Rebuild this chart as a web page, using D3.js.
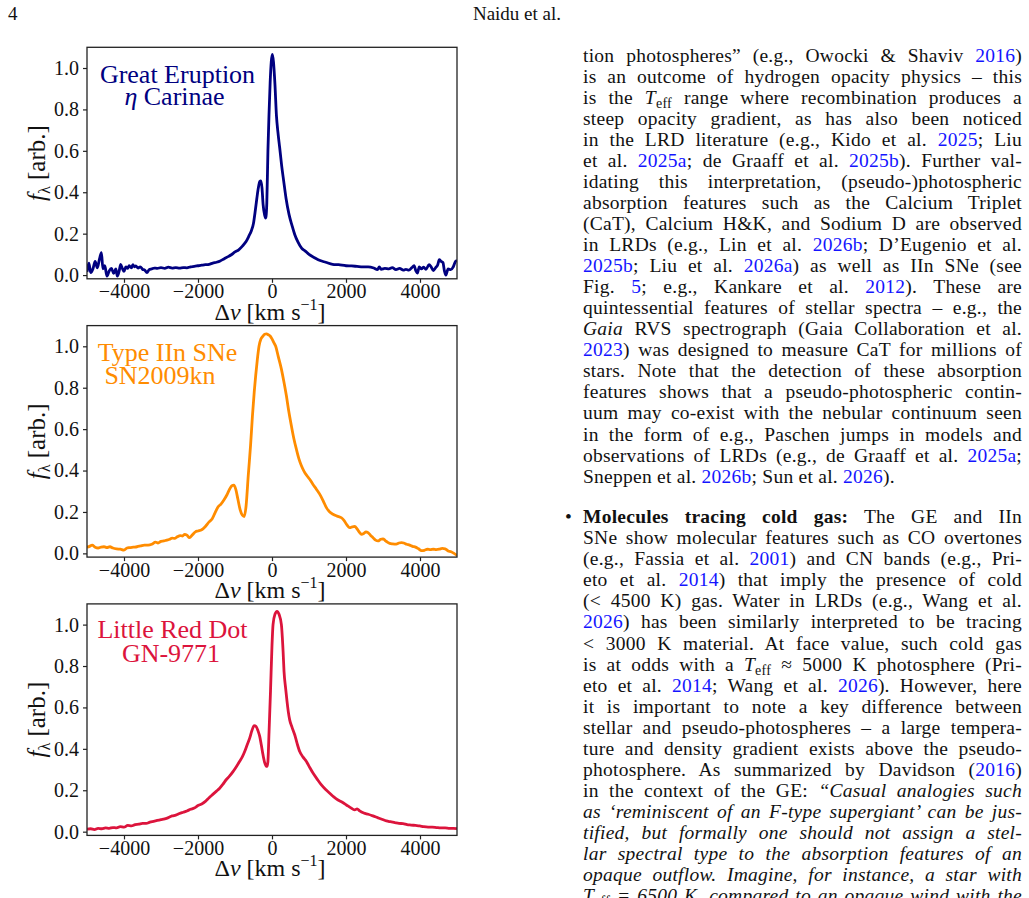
<!DOCTYPE html>
<html><head><meta charset="utf-8">
<script src="https://cdn.jsdelivr.net/npm/d3@7"></script>
<style>
html,body{margin:0;padding:0;background:#fff;overflow:hidden;width:1029px;height:898px;}
#page{position:relative;width:1029px;height:898px;overflow:hidden;font-family:"Liberation Serif",serif;color:#111;}
svg{position:absolute;left:0;top:0;}
.line{position:absolute;left:583px;width:439px;height:21px;line-height:21px;font-size:19.5px;letter-spacing:0.25px;white-space:nowrap;}
.hdr{position:absolute;top:3px;height:21px;line-height:21px;font-size:19px;white-space:nowrap;}
.cite{color:#1414ff;}
sub{font-size:0.72em;vertical-align:-0.28em;line-height:0;}
</style></head><body><div id="page"></div>
<script>
// ---------------- DATA ----------------
const xTicks = [-4000, -2000, 0, 2000, 4000];
const yTicks = [0.0, 0.2, 0.4, 0.6, 0.8, 1.0];

const panelTitles = [["Great Eruption", "η Carinae"], ["Type IIn SNe", "SN2009kn"], ["Little Red Dot", "GN-9771"]];
const panelColors = ["#000080", "#ff8c00", "#dc143c"];

// Great Eruption (eta Carinae)
const geVel = [-5000,-4950,-4900,-4840,-4780,-4720,-4660,-4610,-4570,-4520,-4460,-4400,-4340,-4280,-4220,-4180,-4130,-4090,-4040,-4000,-3950,-3900,-3860,-3800,-3760,-3720,-3680,-3620,-3560,-3500,-3440,-3380,-3320,-3250,-3180,-3100,-3000,-2900,-2800,-2700,-2600,-2500,-2400,-2300,-2200,-2100,-2000,-1900,-1800,-1700,-1600,-1500,-1400,-1300,-1200,-1100,-1000,-900,-800,-700,-620,-560,-500,-460,-410,-370,-330,-300,-270,-240,-200,-170,-140,-110,-80,-50,-20,10,40,80,120,160,208,260,316,380,460,540,614,700,800,900,1000,1150,1300,1450,1640,1800,2000,2150,2300,2450,2600,2750,2850,2900,2950,3050,3160,3250,3350,3450,3550,3620,3700,3780,3840,3890,3930,3980,4040,4100,4160,4245,4300,4360,4420,4480,4520,4570,4620,4660,4700,4760,4830,4900,4960,5000];
const geFlux = [0.015,0.058,0.012,0.030,0.066,0.035,0.080,0.108,0.030,0.045,-0.005,0.020,0.032,0.008,0.030,-0.005,0.020,0.052,0.030,0.018,0.040,0.032,0.045,0.035,0.050,0.040,0.044,0.034,0.040,0.028,0.024,0.012,0.026,0.030,0.034,0.032,0.036,0.032,0.038,0.034,0.036,0.034,0.036,0.035,0.040,0.042,0.045,0.048,0.050,0.052,0.058,0.062,0.068,0.078,0.088,0.098,0.112,0.122,0.140,0.162,0.190,0.213,0.250,0.300,0.370,0.420,0.452,0.455,0.420,0.340,0.290,0.275,0.350,0.600,0.780,0.930,1.030,1.066,1.030,0.920,0.770,0.690,0.615,0.530,0.454,0.370,0.293,0.240,0.196,0.160,0.130,0.116,0.100,0.084,0.070,0.062,0.052,0.050,0.045,0.044,0.042,0.040,0.040,0.034,0.026,0.040,0.028,0.032,0.030,0.036,0.026,0.032,0.024,0.028,0.024,0.036,0.045,0.020,0.010,0.040,0.030,0.038,0.028,0.050,0.040,0.022,0.035,0.050,0.074,0.066,0.060,0.020,0.000,0.030,0.026,0.040,0.066,0.070];

// Type IIn SN 2009kn
const snVel = [-5000,-4930,-4860,-4780,-4700,-4620,-4540,-4460,-4380,-4300,-4200,-4100,-4000,-3920,-3850,-3750,-3650,-3550,-3450,-3350,-3250,-3150,-3080,-3000,-2920,-2850,-2760,-2700,-2630,-2560,-2480,-2420,-2360,-2300,-2230,-2150,-2070,-2000,-1900,-1800,-1700,-1620,-1540,-1460,-1380,-1300,-1220,-1140,-1080,-1030,-980,-920,-860,-800,-750,-700,-640,-580,-530,-480,-441,-400,-351,-300,-250,-200,-150,-100,-50,0,50,100,170,254,320,389,450,524,590,659,730,795,870,940,1019,1100,1200,1289,1380,1470,1560,1650,1760,1876,1950,2030,2100,2170,2235,2300,2370,2416,2480,2540,2595,2660,2730,2800,2865,2940,3000,3060,3120,3181,3260,3360,3430,3500,3560,3640,3720,3800,3880,3960,4040,4120,4200,4280,4360,4440,4520,4600,4680,4760,4840,4920,5000];
const snFlux = [0.030,0.034,0.040,0.030,0.026,0.030,0.032,0.028,0.032,0.026,0.022,0.020,0.016,0.026,0.028,0.030,0.032,0.036,0.040,0.040,0.044,0.054,0.050,0.058,0.060,0.064,0.068,0.074,0.072,0.080,0.086,0.084,0.092,0.088,0.076,0.090,0.104,0.108,0.114,0.130,0.152,0.166,0.196,0.224,0.238,0.258,0.282,0.312,0.327,0.330,0.310,0.260,0.210,0.184,0.178,0.230,0.380,0.520,0.660,0.780,0.858,0.930,1.000,1.035,1.048,1.058,1.060,1.056,1.050,1.036,1.018,1.000,0.950,0.890,0.830,0.761,0.690,0.616,0.555,0.503,0.455,0.423,0.395,0.376,0.358,0.335,0.310,0.286,0.255,0.221,0.200,0.189,0.180,0.172,0.158,0.136,0.124,0.128,0.130,0.118,0.100,0.092,0.096,0.104,0.100,0.088,0.076,0.064,0.060,0.068,0.070,0.062,0.054,0.048,0.046,0.045,0.050,0.052,0.050,0.044,0.040,0.034,0.030,0.022,0.013,0.015,0.020,0.018,0.020,0.018,0.020,0.024,0.022,0.012,0.008,0.000,-0.010];

// Little Red Dot GN-9771
const lrdVel = [-5000,-4900,-4800,-4700,-4600,-4500,-4400,-4300,-4200,-4100,-4000,-3900,-3800,-3700,-3600,-3500,-3400,-3300,-3200,-3100,-3000,-2900,-2800,-2700,-2600,-2500,-2400,-2300,-2200,-2100,-2000,-1950,-1900,-1800,-1700,-1600,-1500,-1414,-1330,-1233,-1150,-1054,-960,-873,-800,-738,-670,-603,-540,-480,-430,-380,-332,-290,-243,-200,-160,-135,-110,-80,-40,0,28,80,136,190,254,300,325,370,406,440,478,540,614,680,749,840,930,1020,1108,1220,1335,1450,1560,1670,1784,1900,2011,2120,2235,2300,2370,2480,2600,2730,2850,2970,3092,3200,3320,3430,3541,3650,3760,3880,3992,4100,4220,4330,4444,4560,4680,4800,4900,5000];
const lrdFlux = [0.012,0.014,0.010,0.016,0.014,0.018,0.016,0.020,0.018,0.024,0.022,0.030,0.028,0.034,0.036,0.040,0.040,0.046,0.050,0.054,0.058,0.062,0.068,0.076,0.080,0.088,0.094,0.100,0.108,0.114,0.126,0.130,0.134,0.146,0.164,0.180,0.196,0.210,0.228,0.252,0.268,0.290,0.315,0.340,0.362,0.387,0.420,0.452,0.490,0.512,0.508,0.488,0.460,0.420,0.371,0.335,0.318,0.315,0.340,0.480,0.680,0.900,1.000,1.050,1.064,1.050,1.000,0.870,0.774,0.690,0.629,0.580,0.540,0.505,0.468,0.425,0.387,0.360,0.339,0.310,0.283,0.254,0.226,0.204,0.186,0.168,0.153,0.142,0.129,0.116,0.105,0.110,0.100,0.090,0.084,0.076,0.068,0.060,0.052,0.048,0.044,0.040,0.039,0.034,0.032,0.030,0.028,0.024,0.022,0.022,0.020,0.018,0.018,0.016,0.016,0.015];

const seriesVel = [geVel, snVel, lrdVel];
const seriesFlux = [geFlux, snFlux, lrdFlux];

// ---------------- CHART ----------------
const W = 1029, H = 898;
const page = d3.select("#page");
const svg = page.append("svg").attr("width", W).attr("height", H);
const font = "'Liberation Serif', serif";

const pLeft = 87, pW = 370, pH = 231.5, pTop0 = 47.3, pGap = 278.3;

seriesVel.forEach((vel, i) => {
  const top = pTop0 + i * pGap;
  const x = d3.scaleLinear().domain([-5000, 5000]).range([pLeft, pLeft + pW]);
  const y = d3.scaleLinear().domain([-0.018, 1.10]).range([top + pH, top]);
  const g = svg.append("g");

  g.append("clipPath").attr("id", "clip" + i)
    .append("rect").attr("x", pLeft).attr("y", top).attr("width", pW).attr("height", pH);

  const pts = vel.map((v, k) => [v, seriesFlux[i][k]]);
  g.append("path").datum(pts)
    .attr("clip-path", `url(#clip${i})`)
    .attr("fill", "none").attr("stroke", panelColors[i]).attr("stroke-width", 2.8)
    .attr("stroke-linejoin", "round")
    .attr("d", d3.line().x(d => x(d[0])).y(d => y(d[1])).curve(d3.curveMonotoneX));

  // axes
  const ax = g.append("g").attr("transform", `translate(0,${top + pH})`)
    .call(d3.axisBottom(x).tickValues(xTicks).tickFormat(d3.format("d")).tickSize(4).tickPadding(1.5));
  const ay = g.append("g").attr("transform", `translate(${pLeft},0)`)
    .call(d3.axisLeft(y).tickValues(yTicks).tickFormat(d3.format(".1f")).tickSize(4).tickPadding(4));
  [ax, ay].forEach(a => {
    a.select(".domain").remove();
    a.selectAll("line").attr("stroke", "#222").attr("stroke-width", 1.2);
    a.selectAll("text").attr("font-family", font).attr("font-size", 20).attr("fill", "#111");
  });

  g.append("rect").attr("x", pLeft).attr("y", top).attr("width", pW).attr("height", pH)
    .attr("fill", "none").attr("stroke", "#222").attr("stroke-width", 1.3);

  // x label
  const xl = g.append("text").attr("x", pLeft + pW / 2 - 2).attr("y", top + pH + 41)
    .attr("text-anchor", "middle").attr("font-family", font).attr("font-size", 24).attr("fill", "#111");
  xl.append("tspan").text("Δ");
  xl.append("tspan").attr("font-style", "italic").text("v");
  xl.append("tspan").text(" [km s");
  xl.append("tspan").attr("font-size", 16).attr("dy", "-10").text("−1");
  xl.append("tspan").attr("dy", "10").text("]");

  // y label
  const yl = g.append("text").attr("transform", `translate(45,${top + pH / 2}) rotate(-90)`)
    .attr("text-anchor", "middle").attr("font-family", font).attr("font-size", 25).attr("fill", "#111");
  yl.append("tspan").attr("font-style", "italic").text("f");
  yl.append("tspan").attr("font-size", 16).attr("dy", "5").text("λ");
  yl.append("tspan").attr("dy", "-5").text(" [arb.]");

  // annotation
  const ann = [[90.5, 35.6, 87.5, 57.9], [80.5, 34.9, 73, 58.2], [85.5, 33.7, 84, 58.1]][i];
  g.append("text").attr("x", pLeft + ann[0]).attr("y", top + ann[1]).attr("text-anchor", "middle")
    .attr("font-family", font).attr("font-size", 26).attr("fill", panelColors[i]).text(panelTitles[i][0]);
  const t2 = g.append("text").attr("x", pLeft + ann[2]).attr("y", top + ann[3]).attr("text-anchor", "middle")
    .attr("font-family", font).attr("font-size", 26).attr("fill", panelColors[i]);
  if (i === 0) {
    t2.append("tspan").attr("font-style", "italic").text("η");
    t2.append("tspan").text(" Carinae");
  } else {
    t2.text(panelTitles[i][1]);
  }
});

// ---------------- PAGE TEXT ----------------
page.append("div").attr("class", "hdr").style("left", "8px").text("4");
const hd = page.append("div").attr("class", "hdr").style("left", "0px").text("Naidu et al.");
{
  const r = document.createRange(); r.selectNodeContents(hd.node());
  const tw = r.getBoundingClientRect().width;
  hd.style("left", (517 - tw / 2) + "px");
}

const c = s => `<span class="cite">${s}</span>`;
const teff = `<i>T</i><sub>eff</sub>`;
const para1 = [
  `tion photospheres” (e.g., Owocki &amp; Shaviv ${c("2016")})`,
  `is an outcome of hydrogen opacity physics – this`,
  `is the ${teff} range where recombination produces a`,
  `steep opacity gradient, as has also been noticed`,
  `in the LRD literature (e.g., Kido et al. ${c("2025")}; Liu`,
  `et al. ${c("2025a")}; de Graaff et al. ${c("2025b")}). Further val-`,
  `idating this interpretation, (pseudo-)photospheric`,
  `absorption features such as the Calcium Triplet`,
  `(CaT), Calcium H&amp;K, and Sodium D are observed`,
  `in LRDs (e.g., Lin et al. ${c("2026b")}; D’Eugenio et al.`,
  `${c("2025b")}; Liu et al. ${c("2026a")}) as well as IIn SNe (see`,
  `Fig. ${c("5")}; e.g., Kankare et al. ${c("2012")}). These are`,
  `quintessential features of stellar spectra – e.g., the`,
  `<i>Gaia</i> RVS spectrograph (Gaia Collaboration et al.`,
  `${c("2023")}) was designed to measure CaT for millions of`,
  `stars. Note that the detection of these absorption`,
  `features shows that a pseudo-photospheric contin-`,
  `uum may co-exist with the nebular continuum seen`,
  `in the form of e.g., Paschen jumps in models and`,
  `observations of LRDs (e.g., de Graaff et al. ${c("2025a")};`,
  `Sneppen et al. ${c("2026b")}; Sun et al. ${c("2026")}).`
];
const para2 = [
  `<b>Molecules tracing cold gas:</b> The GE and IIn`,
  `SNe show molecular features such as CO overtones`,
  `(e.g., Fassia et al. ${c("2001")}) and CN bands (e.g., Pri-`,
  `eto et al. ${c("2014")}) that imply the presence of cold`,
  `(&lt; 4500 K) gas. Water in LRDs (e.g., Wang et al.`,
  `${c("2026")}) has been similarly interpreted to be tracing`,
  `&lt; 3000 K material. At face value, such cold gas`,
  `is at odds with a ${teff} ≈ 5000 K photosphere (Pri-`,
  `eto et al. ${c("2014")}; Wang et al. ${c("2026")}). However, here`,
  `it is important to note a key difference between`,
  `stellar and pseudo-photospheres – a large tempera-`,
  `ture and density gradient exists above the pseudo-`,
  `photosphere. As summarized by Davidson (${c("2016")})`,
  `in the context of the GE: <i>“Casual analogies such</i>`,
  `<i>as ‘reminiscent of an F-type supergiant’ can be jus-</i>`,
  `<i>tified, but formally one should not assign a stel-</i>`,
  `<i>lar spectral type to the absorption features of an</i>`,
  `<i>opaque outflow. Imagine, for instance, a star with</i>`,
  `<i>T</i><sub>eff</sub><i> = 6500 K, compared to an opaque wind with the</i>`
];

const lineGap = 21.05, ascOff = 17.08, colW = 439;
function addLines(lines, base, lastJustified) {
  lines.forEach((h, i) => {
    const d = page.append("div").attr("class", "line")
      .style("top", (base + i * lineGap - ascOff) + "px").html(h);
    if (i === lines.length - 1 && !lastJustified) return;
    const node = d.node();
    const r = document.createRange(); r.selectNodeContents(node);
    const w = r.getBoundingClientRect().width;
    const n = (node.textContent.match(/ /g) || []).length;
    if (n > 0) d.style("word-spacing", ((colW - w) / n) + "px");
  });
}
addLines(para1, 61.7, false);
addLines(para2, 523.3, true);
page.append("div").attr("class", "line").style("left", "565px").style("width", "14px")
  .style("top", (523.3 - ascOff) + "px").text("•");
</script></body></html>
